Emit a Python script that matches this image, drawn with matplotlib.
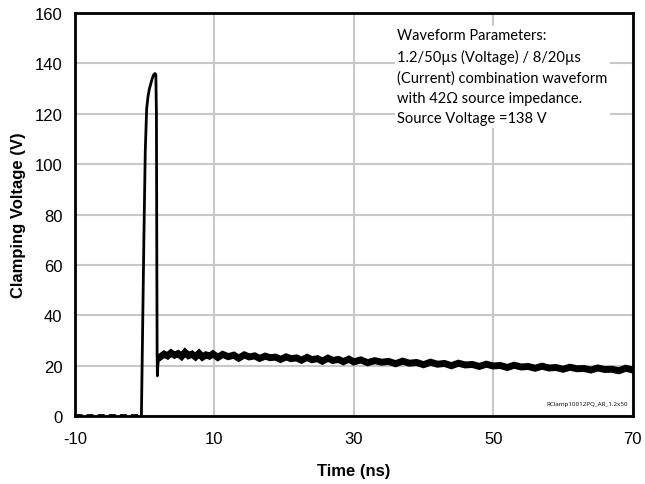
import matplotlib
matplotlib.use("Agg")
import matplotlib.pyplot as plt

# pulse edge (time in ns, volts)
pulse_t = [-0.45, -0.3, -0.1, 0.1, 0.3, 0.5, 0.7, 0.9, 1.1, 1.3, 1.5, 1.62, 1.7, 1.76, 1.8, 1.84, 1.9, 2.0, 2.1, 2.3]
pulse_v = [0.5, 30, 70, 105, 122, 127, 130, 132, 134, 135.5, 136, 135.5, 120, 60, 25, 16, 20, 22.5, 23.5, 23.8]

# noisy clamped tail, sampled by eye
tail_t = [2.3, 2.8, 3.3, 3.8, 4.3, 4.8, 5.3, 5.8, 6.3, 6.8, 7.3, 7.8, 8.3, 8.8, 9.3, 9.8, 10.5, 11.2, 12, 12.8,
          13.5, 14.3, 15, 15.8, 16.5, 17.3, 18, 18.8, 19.5, 20.3, 21, 21.8, 22.5, 23.3, 24, 24.8, 25.5, 26.3,
          27, 27.8, 28.5, 29.3, 30, 31, 32, 33, 34, 35, 36, 37, 38, 39, 40, 41, 42, 43, 44, 45, 46, 47, 48,
          49, 50, 51, 52, 53, 54, 55, 56, 57, 58, 59, 60, 61, 62, 63, 64, 65, 66, 67, 68, 69, 70]
tail_v = [23.6, 24.6, 23.9, 25.1, 24.2, 24.8, 23.7, 25.3, 24.0, 24.6, 23.5, 24.9, 23.4, 24.3, 23.8, 24.7,
          23.3, 24.5, 23.6, 24.2, 23.0, 24.3, 23.5, 23.9, 22.9, 23.8, 23.2, 23.4, 22.5, 23.5, 22.8, 23.1,
          22.2, 23.3, 22.4, 22.8, 21.8, 23.0, 22.1, 22.5, 21.6, 22.6, 21.5, 22.3, 21.2, 22.0, 21.4, 21.7,
          20.8, 21.8, 21.0, 21.3, 20.4, 21.4, 20.6, 20.9, 20.0, 21.0, 20.3, 20.5, 19.7, 20.6, 19.9, 20.1,
          19.3, 20.2, 19.5, 19.7, 19.0, 19.8, 19.1, 19.3, 18.6, 19.4, 18.8, 18.9, 18.3, 19.1, 18.5, 18.6,
          18.0, 19.0, 18.3]

base_t = [-10, -0.45]
base_v = [0.4, 0.4]

note = ("Waveform Parameters:\n1.2/50\u00b5s (Voltage) / 8/20\u00b5s\n(Current) combination waveform\n"
        "with 42\u03a9 source impedance.\nSource Voltage =138 V")

plt.rcParams['font.family'] = ['Liberation Sans', 'DejaVu Sans']
plt.rcParams['axes.unicode_minus'] = False

fig = plt.figure(figsize=(6.45, 4.85), dpi=100)
ax = fig.add_axes([0.116, 0.140, 0.865, 0.831])

ax.plot(base_t, base_v, color='black', lw=2, ls=(0, (2.5, 1.5)), solid_capstyle='butt')
ax.plot(pulse_t, pulse_v, color='black', lw=2)
ax.plot(tail_t, tail_v, color='black', lw=5, solid_joinstyle='miter')

ax.set_xlim(-10, 70)
ax.set_ylim(0, 160)
ax.set_xticks([-10, 10, 30, 50, 70])
ax.set_yticks(range(0, 161, 20))
ax.tick_params(length=0, labelsize=12)
ax.tick_params(axis='x', pad=11)
ax.tick_params(axis='y', pad=9)
ax.grid(True, color='#c8c8c8', lw=1.5)
ax.set_axisbelow(True)
for s in ax.spines.values():
    s.set_linewidth(2)
    s.set_color('black')

ax.set_xlabel('Time (ns)', fontsize=12, fontweight='bold', labelpad=12)
ax.set_ylabel('Clamping Voltage (V)', fontsize=12, fontweight='bold', labelpad=6)

ax.text(0.578, 0.962, note, transform=ax.transAxes, ha='left', va='top', fontsize=10.5,
        family=['Lato', 'DejaVu Sans'], linespacing=1.55,
        bbox=dict(facecolor='white', edgecolor='none', pad=2))
ax.text(0.992, 0.025, 'RClamp10012PQ_AR_1.2x50', transform=ax.transAxes, ha='right',
        va='bottom', fontsize=4.5, family=['Open Sans', 'DejaVu Sans'])

fig.savefig('out.png', dpi=100)
